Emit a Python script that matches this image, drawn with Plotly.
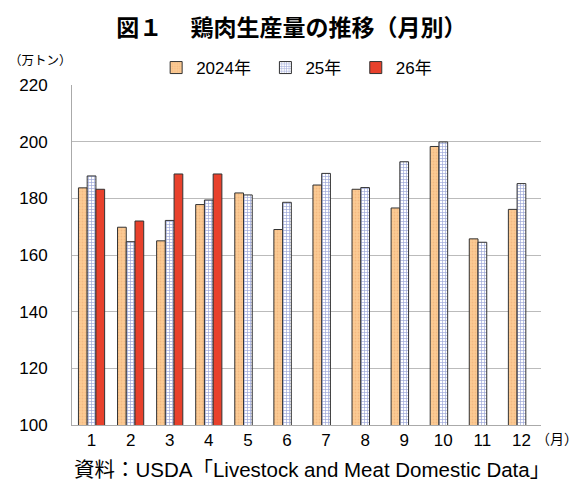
import plotly.graph_objects as go

months = ["1", "2", "3", "4", "5", "6", "7", "8", "9", "10", "11", "12"]
y2024 = [183.7, 169.8, 165.0, 177.8, 181.9, 169.0, 184.7, 183.2, 176.6, 198.3, 165.7, 176.1]
y2025 = [187.9, 164.7, 172.2, 179.4, 181.2, 178.6, 188.8, 183.8, 192.9, 199.9, 164.5, 185.2]
y2026 = [183.2, 172.0, 188.6, 188.6, None, None, None, None, None, None, None, None]
names = ["2024年", "25年", "26年"]

FONT = "Liberation Sans, Noto Sans CJK JP"
CJK = "Noto Sans CJK JP"
line = dict(color="#333333", width=1)

fig = go.Figure()
fig.add_trace(go.Bar(
    x=months, y=y2024, name=names[0] + "  ",
    marker=dict(color="#FCCB94", line=line,
                pattern=dict(shape=".", fgcolor="#E8A870", bgcolor="#FCCB94", size=3, solidity=0.3)),
))
fig.add_trace(go.Bar(
    x=months, y=y2025, name=names[1] + "  ",
    marker=dict(color="white", line=line,
                pattern=dict(shape="+", fgcolor="#3A4FB0", bgcolor="white", size=3, solidity=0.4)),
))
fig.add_trace(go.Bar(
    x=months, y=y2026, name=names[2],
    marker=dict(color="#E8412C", line=line),
))

fig.update_layout(
    width=576, height=478,
    margin=dict(l=64, r=43, t=77, b=61),
    paper_bgcolor="white", plot_bgcolor="white",
    barmode="group", bargap=0.33, bargroupgap=0,
    font=dict(family=FONT, size=17, color="#000000"),
    title=dict(text="<b>図１　 鶏肉生産量の推移（月別）</b>", x=0.492, xanchor="center",
               yref="container", y=0.958, yanchor="middle",
               font=dict(size=23, family=CJK)),
    legend=dict(orientation="h", x=0.479, xanchor="center", y=1.05, yanchor="middle",
                font=dict(size=17), itemwidth=30, traceorder="normal",
                bgcolor="rgba(0,0,0,0)"),
    xaxis=dict(showline=True, linecolor="#AAAAAA", linewidth=1, ticks="",
               tickfont=dict(size=17)),
    yaxis=dict(range=[100, 220], dtick=20, showgrid=True, gridcolor="#BBBBBB", gridwidth=1,
               showline=True, linecolor="#AAAAAA", linewidth=1, ticks="",
               tickfont=dict(size=17), zeroline=False, ticklabelstandoff=20),
    annotations=[
        dict(text="（万トン）", xref="paper", yref="paper", x=-0.068, y=1.074,
             xanchor="center", yanchor="middle", showarrow=False,
             font=dict(size=12.5, family=CJK)),
        dict(text="（月）", xref="paper", yref="paper", x=1.083, y=-0.038,
             xanchor="right", yanchor="middle", showarrow=False,
             font=dict(size=14, family=CJK)),
        dict(text="資料：USDA「Livestock and Meat Domestic Data」", xref="paper", yref="paper",
             x=0.0, y=-0.132, xanchor="left", yanchor="middle", showarrow=False,
             font=dict(size=20.5)),
    ],
)

fig.write_html("out.html")
